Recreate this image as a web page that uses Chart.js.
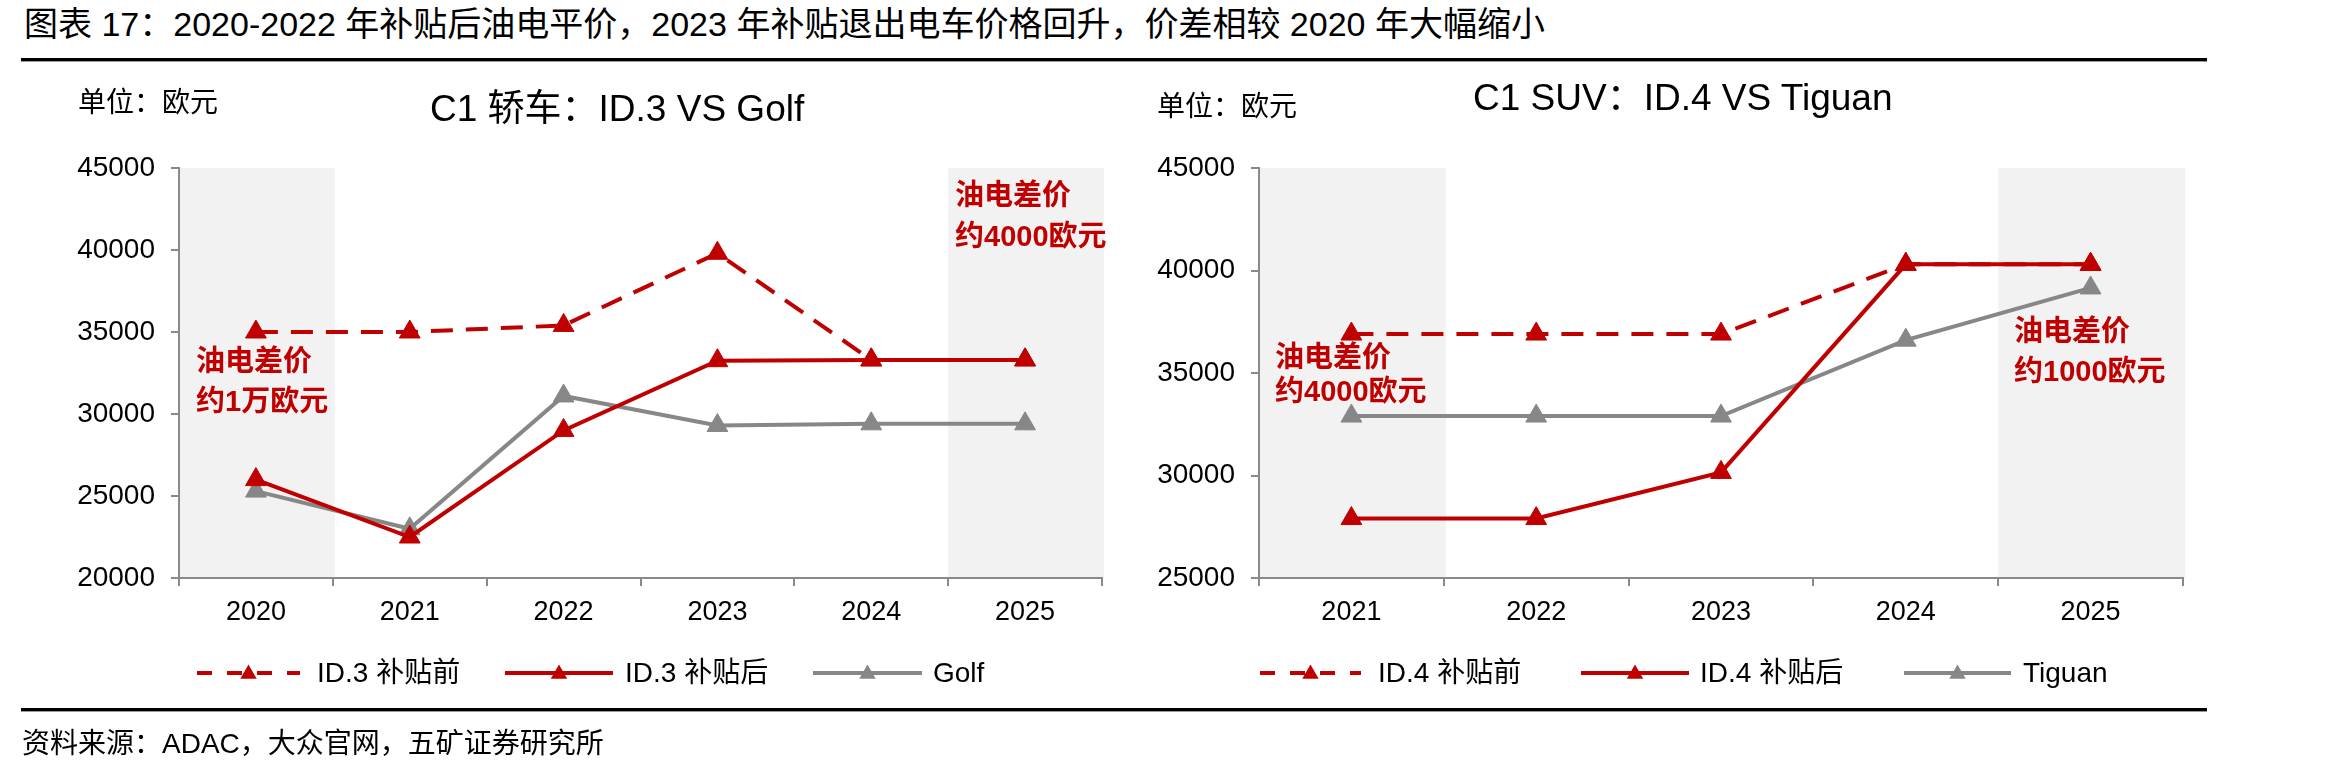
<!DOCTYPE html>
<html>
<head>
<meta charset="utf-8">
<script src="https://cdn.jsdelivr.net/npm/chart.js@4.4.1/dist/chart.umd.min.js"></script>
<style>
html,body{margin:0;padding:0;background:#fff;}
body{width:2340px;height:773px;position:relative;overflow:hidden;font-family:"Liberation Sans",Arial,"Noto Sans CJK SC",sans-serif;color:#000;}
.t{position:absolute;height:0;display:flex;align-items:center;white-space:nowrap;}
.t span{line-height:1.2;}
.red{color:#C00000;font-weight:bold;}
canvas{position:absolute;}
.rule{position:absolute;left:21px;width:2186px;height:3px;background:#000;border-bottom:1px solid #9a9a9a;}
</style>
</head>
<body>
<div class="rule" style="top:58px"></div>
<div class="rule" style="top:708px"></div>
<canvas id="c1" width="1140" height="540" style="left:0;top:120px;width:1140px;height:540px"></canvas>
<canvas id="c2" width="1200" height="540" style="left:1140px;top:120px;width:1200px;height:540px"></canvas>
<div id="texts"></div>
<script>
// ---------- data ----------
const cats1 = ['2020','2021','2022','2023','2024','2025'];
const id3Before = [35000, 35000, 35400, 39800, 33300, 33300];
const id3After  = [26000, 22500, 29000, 33250, 33300, 33300];
const golf      = [25300, 23000, 31100, 29300, 29400, 29400];
const yTicks1   = [20000, 25000, 30000, 35000, 40000, 45000];

const cats2 = ['2021','2022','2023','2024','2025'];
const id4Before = [36900, 36900, 36900, 40300, 40300];
const id4After  = [27900, 27900, 30150, 40300, 40300];
const tiguan    = [32900, 32900, 32900, 36600, 39150];
const yTicks2   = [25000, 30000, 35000, 40000, 45000];

const names1 = ['ID.3 补贴前', 'ID.3 补贴后', 'Golf'];
const names2 = ['ID.4 补贴前', 'ID.4 补贴后', 'Tiguan'];

const RED = '#C00000', GREY = '#878787', AXIS = '#8a8a8a', BAND = '#F2F2F2';
const FONT = '"Liberation Sans", Arial, "Noto Sans CJK SC", sans-serif';

// ---------- shaded bands ----------
const bandPlugin = {
  id: 'bands',
  beforeDraw(chart, args, opts) {
    const {ctx, chartArea, scales} = chart;
    const x = scales.x;
    const half = (x.getPixelForValue(1) - x.getPixelForValue(0)) / 2;
    ctx.save();
    ctx.fillStyle = BAND;
    (opts.indices || []).forEach(i => {
      const c = x.getPixelForValue(i);
      ctx.fillRect(c - half, chartArea.top, 2 * half + 2, chartArea.bottom - chartArea.top);
    });
    ctx.restore();
  }
};

function makeChart(id, cats, before, after, other, names, yTicks, yWidth, padRight, bands) {
  const ds = (label, data, color, dash) => ({
    label, data, borderColor: color, backgroundColor: color,
    borderWidth: 4, borderDash: dash || [], tension: 0,
    pointStyle: 'triangle', pointRadius: 12, pointBorderWidth: 1,
    pointBackgroundColor: color, pointBorderColor: color, fill: false
  });
  return new Chart(document.getElementById(id), {
    type: 'line',
    data: {
      labels: cats,
      datasets: [
        ds(names[0], before, RED, [22, 13]),
        ds(names[1], after, RED),
        ds(names[2], other, GREY)
      ]
    },
    plugins: [bandPlugin],
    options: {
      responsive: false, animation: false, devicePixelRatio: 1,
      layout: {padding: {top: 48, right: padRight, left: 0, bottom: 0}},
      plugins: {legend: {display: false}, tooltip: {enabled: false}, bands: {indices: bands}},
      scales: {
        x: {
          offset: true,
          grid: {offset: true, drawOnChartArea: false, drawTicks: true, tickLength: 8, color: AXIS, lineWidth: 2},
          border: {display: true, color: AXIS, width: 2},
          ticks: {color: '#000', font: {family: FONT, size: 27}, padding: 10, maxRotation: 0},
          afterFit(s) { s.height = 82; }
        },
        y: {
          min: yTicks[0], max: yTicks[yTicks.length - 1],
          afterBuildTicks(s) { s.ticks = yTicks.map(v => ({value: v})); },
          grid: {drawOnChartArea: false, drawTicks: true, tickLength: 8, color: AXIS, lineWidth: 2},
          border: {display: true, color: AXIS, width: 2},
          ticks: {color: '#000', font: {family: FONT, size: 28}, padding: 16, callback: v => String(v)},
          afterFit(s) { s.width = yWidth; }
        }
      }
    }
  });
}

makeChart('c1', cats1, id3Before, id3After, golf, names1, yTicks1, 179, 38, [0, 5]);
makeChart('c2', cats2, id4Before, id4After, tiguan, names2, yTicks2, 119, 157, [0, 4]);

// ---------- text ----------
const box = document.getElementById('texts');
function txt(s, left, cy, size, cls) {
  const d = document.createElement('div');
  d.className = 't' + (cls ? ' ' + cls : '');
  d.style.left = left + 'px';
  d.style.top = cy + 'px';
  d.style.fontSize = size + 'px';
  const sp = document.createElement('span');
  sp.textContent = s;
  d.appendChild(sp);
  box.appendChild(d);
}
txt('图表 17：2020-2022 年补贴后油电平价，2023 年补贴退出电车价格回升，价差相较 2020 年大幅缩小', 24, 24, 34);
txt('单位：欧元', 78, 103, 28);
txt('C1 轿车：ID.3 VS Golf', 430, 109, 37);
txt('单位：欧元', 1157, 107, 28);
txt('C1 SUV：ID.4 VS Tiguan', 1473, 98, 37);
txt('油电差价', 196, 361, 29, 'red');
txt('约1万欧元', 196, 401, 29, 'red');
txt('油电差价', 955, 195, 29, 'red');
txt('约4000欧元', 955, 236, 29, 'red');
txt('油电差价', 1275, 357, 29, 'red');
txt('约4000欧元', 1275, 391, 29, 'red');
txt('油电差价', 2014, 331, 29, 'red');
txt('约1000欧元', 2014, 371, 29, 'red');
txt('资料来源：ADAC，大众官网，五矿证券研究所', 22, 744, 28);

// ---------- legends ----------
function legendItem(x0, w, textLeft, color, dashed, label) {
  const cy = 673;
  const svgNS = 'http://www.w3.org/2000/svg';
  const svg = document.createElementNS(svgNS, 'svg');
  svg.setAttribute('width', w); svg.setAttribute('height', 30);
  svg.style.position = 'absolute'; svg.style.left = x0 + 'px'; svg.style.top = (cy - 15) + 'px';
  const ln = document.createElementNS(svgNS, 'line');
  ln.setAttribute('x1', 0); ln.setAttribute('x2', w); ln.setAttribute('y1', 15); ln.setAttribute('y2', 15);
  ln.setAttribute('stroke', color); ln.setAttribute('stroke-width', 4);
  if (dashed) ln.setAttribute('stroke-dasharray', '15 15');
  svg.appendChild(ln);
  const r = 9.5, cx = w / 2, c = 15 + 1;
  const tri = document.createElementNS(svgNS, 'polygon');
  tri.setAttribute('points', `${cx},${c - r} ${cx + r * 0.866},${c + r / 2} ${cx - r * 0.866},${c + r / 2}`);
  tri.setAttribute('fill', color);
  svg.appendChild(tri);
  box.appendChild(svg);
  txt(label, textLeft, cy, 28);
}
legendItem(197, 103, 317, RED, true, names1[0]);
legendItem(505, 108, 625, RED, false, names1[1]);
legendItem(813, 109, 933, GREY, false, names1[2]);
legendItem(1260, 101, 1378, RED, true, names2[0]);
legendItem(1581, 108, 1700, RED, false, names2[1]);
legendItem(1904, 107, 2023, GREY, false, names2[2]);
</script>
</body>
</html>
